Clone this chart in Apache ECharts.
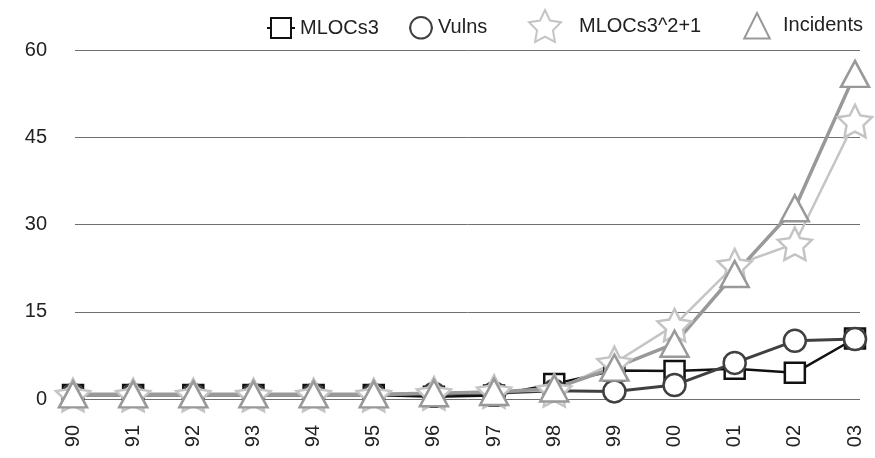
<!DOCTYPE html>
<html>
<head>
<meta charset="utf-8">
<script src="https://cdn.jsdelivr.net/npm/echarts@6/dist/echarts.min.js"></script>
<style>
html,body{margin:0;padding:0;background:#fff;}
#chart{width:875px;height:458px;}
</style>
</head>
<body>
<div id="chart"></div>
<script>
const categories = ['90','91','92','93','94','95','96','97','98','99','00','01','02','03'];
const mlocs3    = [0.7,0.7,0.7,0.7,0.7,0.7,0.4,0.6,2.6,4.9,4.8,5.2,4.5,10.4];
const vulns     = [0.7,0.7,0.7,0.7,0.7,0.7,0.9,1.0,1.4,1.3,2.4,6.2,10.0,10.3];
const mlocsSq   = [0.7,0.7,0.7,0.7,0.7,0.7,1.0,1.3,1.5,6.2,12.7,23.0,26.7,47.8];
const incidents = [0.8,0.8,0.8,0.8,0.8,0.8,1.0,1.2,1.8,5.4,9.5,21.5,32.8,55.9];
const yMin = 0, yMax = 60, yStep = 15;

const starPath = (function(){
  let d = '';
  for (let k = 0; k < 10; k++) {
    const a = -Math.PI/2 + k*Math.PI/5;
    const r = (k % 2 === 0) ? 1 : 0.5;
    d += (k === 0 ? 'M' : 'L') + (r*Math.cos(a)).toFixed(4) + ' ' + (r*Math.sin(a)).toFixed(4) + ' ';
  }
  return 'path://' + d + 'Z';
})();

const FONT = '"Liberation Sans", Arial, Helvetica, sans-serif';
const txt = {fontFamily: FONT, fontSize: 20, color: '#222'};
const hidden = 'rgba(0,0,0,0)';

const chart = echarts.init(document.getElementById('chart'), null, {renderer: 'canvas'});
chart.setOption({
  animation: false,
  backgroundColor: '#fff',
  legend: [
    {data: ['MLOCs3'], left: 266, top: 17, itemWidth: 28, itemHeight: 25, padding: 0, textStyle: txt, selectedMode: false},
    {data: ['Vulns'], left: 408, top: 16, itemWidth: 24, itemHeight: 27, padding: 0, textStyle: txt, selectedMode: false},
    {data: ['MLOCs3^2+1'], left: 515, top: 9, itemWidth: 58, itemHeight: 40, padding: 0, textStyle: txt, selectedMode: false, lineStyle: {color: hidden}},
    {data: ['Incidents'], left: 735, top: 12, itemWidth: 42, itemHeight: 32, padding: 0, textStyle: txt, selectedMode: false, lineStyle: {color: hidden}}
  ],
  grid: [
    {left: 73, right: 20, top: 50, bottom: 59},
    {left: 75, right: 15, top: 50, bottom: 59}
  ],
  xAxis: [
    {
      gridIndex: 0, type: 'category', data: categories, boundaryGap: false,
      axisLine: {show: false}, axisTick: {show: false},
      axisLabel: Object.assign({rotate: 90, margin: 26}, txt),
      splitLine: {show: false}
    },
    {gridIndex: 1, type: 'value', min: 0, max: 1, show: false}
  ],
  yAxis: [
    {gridIndex: 0, type: 'value', min: yMin, max: yMax, interval: yStep, show: false},
    {
      gridIndex: 1, type: 'value', min: yMin, max: yMax, interval: yStep,
      axisLine: {show: false}, axisTick: {show: false},
      axisLabel: Object.assign({margin: 28}, txt),
      splitLine: {show: true, lineStyle: {color: '#707070', width: 1}}
    }
  ],
  series: [
    {
      name: 'MLOCs3', type: 'line', data: mlocs3, xAxisIndex: 0, yAxisIndex: 0,
      symbol: 'rect', symbolSize: 20,
      lineStyle: {color: '#111', width: 2.5},
      itemStyle: {color: '#fff', borderColor: '#111', borderWidth: 2.5},
      emphasis: {disabled: true}
    },
    {
      name: 'Vulns', type: 'line', data: vulns, xAxisIndex: 0, yAxisIndex: 0,
      symbol: 'circle', symbolSize: 22,
      lineStyle: {color: '#404040', width: 3},
      itemStyle: {color: '#fff', borderColor: '#404040', borderWidth: 2.5},
      emphasis: {disabled: true}
    },
    {
      name: 'MLOCs3^2+1', type: 'line', data: mlocsSq, xAxisIndex: 0, yAxisIndex: 0,
      symbol: starPath, symbolSize: 34, symbolKeepAspect: true,
      lineStyle: {color: '#c4c4c4', width: 2.5},
      itemStyle: {color: '#fff', borderColor: '#c4c4c4', borderWidth: 2.5},
      emphasis: {disabled: true}
    },
    {
      name: 'Incidents', type: 'line', data: incidents, xAxisIndex: 0, yAxisIndex: 0,
      symbol: 'triangle', symbolSize: [28, 26],
      lineStyle: {color: '#999', width: 3.5},
      itemStyle: {color: '#fff', borderColor: '#999', borderWidth: 2.5},
      emphasis: {disabled: true}
    }
  ]
});
</script>
</body>
</html>
